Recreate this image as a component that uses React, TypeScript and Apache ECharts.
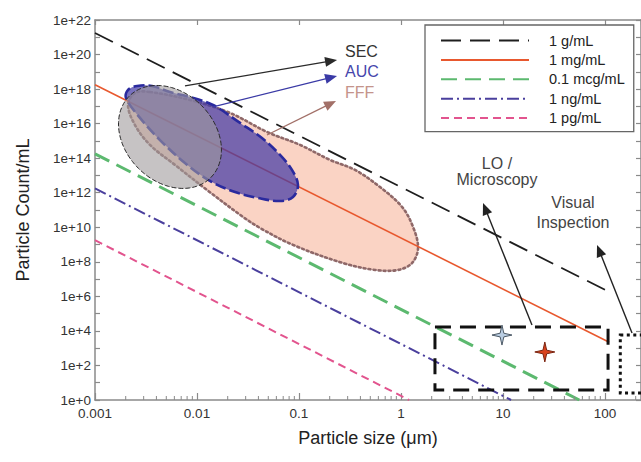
import React, { useEffect, useRef } from "react";
import * as echarts from "echarts";

const FONT = "'Liberation Sans', Arial, Helvetica, sans-serif";

// ---- concentration lines: [particle size (µm), particle count / mL]
const SERIES_NAMES = ["1 g/mL", "1 mg/mL", "0.1 mcg/mL", "1 ng/mL", "1 pg/mL"];
const SERIES_COLORS = ["#1e1e1e", "#e8582e", "#5cb96f", "#4a3f9d", "#e2548e"];
const SERIES_WIDTHS = [1.8, 1.6, 3, 2, 2];
const SERIES_DASHES: (number[] | "solid")[] = [[20, 9], "solid", [16, 8], [12, 4, 2, 4], [8, 5]];
const LINE_1_G = [[0.001, 1.78e21], [110, 1.8e6]];
const LINE_1_MG = [[0.001, 1.78e18], [110, 2.2e3]];
const LINE_01_MCG = [[0.001, 1.78e14], [56, 1]];
const LINE_1_NG = [[0.001, 1.78e12], [12, 1]];
const LINE_1_PG = [[0.001, 1.78e9], [1.2, 1]];
const LINES = [LINE_1_G, LINE_1_MG, LINE_01_MCG, LINE_1_NG, LINE_1_PG];

// ---- axes (decades)
const X_TICK_LABELS = ["0.001", "0.01", "0.1", "1", "10", "100"]; // 1e-3 .. 1e2
const Y_TICK_LABELS = ["1e+0", "1e+2", "1e+4", "1e+6", "1e+8", "1e+10", "1e+12", "1e+14", "1e+16", "1e+18", "1e+20", "1e+22"];
const X_MIN = -3;
const X_MAX = 2.353;
const Y_MIN = 0;
const Y_MAX = 22;
const MINOR_MULTIPLIERS = [2, 3, 4, 5, 6, 7, 8, 9];

// ---- regions, vertices in [log10 size, log10 count]
const FFF_REGION = [
  [-2.461, 17.83], [-2.069, 17.37], [-1.676, 16.62], [-1.314, 15.52], [-0.99, 14.77],
  [-0.696, 13.9], [-0.451, 13.32], [-0.206, 12.33], [0.01, 11.18], [0.118, 10.02],
  [0.167, 8.8], [0.108, 7.93], [-0.029, 7.53], [-0.255, 7.53], [-0.569, 7.93],
  [-1.059, 8.98], [-1.382, 9.96], [-1.549, 10.6], [-1.902, 12.16], [-2.216, 13.61],
  [-2.461, 14.77], [-2.608, 15.92], [-2.676, 17.08], [-2.608, 17.78],
];
const AUC_REGION = [
  [-2.696, 17.49], [-2.676, 17.95], [-2.588, 18.18], [-2.441, 18.18], [-2.265, 17.83],
  [-2.069, 17.54], [-1.843, 17.08], [-1.578, 16.04], [-1.363, 15.17], [-1.186, 14.19],
  [-1.069, 13.32], [-1.01, 12.45], [-1.059, 11.75], [-1.186, 11.52], [-1.402, 11.7],
  [-1.627, 12.04], [-1.873, 12.68], [-2.118, 13.72], [-2.363, 15.05], [-2.559, 16.33],
];
// SEC ellipse: centre, end of one semi-axis, end of the other semi-axis
const SEC_ELLIPSE = { center: [-2.265, 15.23], axisA: [-1.866, 12.87], axisB: [-1.956, 17.05] };

// ---- annotations [log10 size, log10 count]
const METHOD_LABELS = ["SEC", "AUC", "FFF"];
const METHOD_COLORS = ["#2a2a2a", "#3a3aa6", "#a27068"];
const METHOD_TEXT_COLORS = ["#333333", "#4646ac", "#c4948b"];
const METHOD_ARROWS = [
  [[-2.118, 18.18], [-0.627, 19.69]],
  [[-1.843, 16.97], [-0.627, 18.76]],
  [[-1.314, 15.34], [-0.637, 17.31]],
];
const METHOD_LABEL_POS = [[-0.549, 20.15], [-0.549, 18.99], [-0.549, 17.83]];

const LO_LABEL = ["LO /", "Microscopy"];
const LO_LABEL_POS = [[0.941, 13.72], [0.941, 12.74]];
const LO_ARROW = [[1.284, 4.34], [0.804, 11.41]];
const LO_BOX = { x: [0.333, 2.03], y: [0.58, 4.23] };
const VISUAL_LABEL = ["Visual", "Inspection"];
const VISUAL_LABEL_POS = [[1.686, 11.41], [1.686, 10.25]];
const VISUAL_ARROW = [[2.265, 3.88], [1.922, 8.97]];
const VISUAL_BOX = { x: [2.15, 2.7], y: [0.4, 3.76] };
const STARS = [
  { pos: [0.99, 3.76], fill: "#b9cde2", stroke: "#4d5a66" },
  { pos: [1.41, 2.78], fill: "#d8421d", stroke: "#7a2410" },
];

const AXIS_COLOR = "#8a8a8a";

function arrowEls(api: any, from: number[], to: number[], color: string, width: number) {
  const a = api.coord(from);
  const b = api.coord(to);
  const dx = b[0] - a[0];
  const dy = b[1] - a[1];
  const len = Math.hypot(dx, dy);
  const ux = dx / len;
  const uy = dy / len;
  const hl = 12;
  const hw = 5;
  const bx = b[0] - ux * hl;
  const by = b[1] - uy * hl;
  return [
    {
      type: "line",
      shape: { x1: a[0], y1: a[1], x2: bx + ux * 2, y2: by + uy * 2 },
      style: { stroke: color, lineWidth: width },
    },
    {
      type: "polygon",
      shape: { points: [[b[0], b[1]], [bx - uy * hw, by + ux * hw], [bx + uy * hw, by - ux * hw]] },
      style: { fill: color },
    },
  ];
}

function textEl(api: any, pos: number[], text: string, color: string, align: string) {
  const p = api.coord(pos);
  return {
    type: "text",
    x: p[0],
    y: p[1],
    style: { text, fill: color, font: `16px ${FONT}`, align, verticalAlign: "middle" },
  };
}

function boxEl(api: any, box: { x: number[]; y: number[] }, dash: number[], width: number) {
  const pts = [
    api.coord([box.x[0], box.y[1]]),
    api.coord([box.x[1], box.y[1]]),
    api.coord([box.x[1], box.y[0]]),
    api.coord([box.x[0], box.y[0]]),
  ];
  return {
    type: "polygon",
    shape: { points: pts },
    style: { fill: "none", stroke: "#111", lineWidth: width, lineDash: dash },
  };
}

function starEl(api: any, pos: number[], fill: string, stroke: string) {
  const c = api.coord(pos);
  const pts: number[][] = [];
  for (let i = 0; i < 8; i++) {
    const ang = (i * Math.PI) / 4 - Math.PI / 2;
    const r = i % 2 === 0 ? 10 : 2.6;
    pts.push([c[0] + r * Math.cos(ang), c[1] + r * Math.sin(ang)]);
  }
  return { type: "polygon", shape: { points: pts }, style: { fill, stroke, lineWidth: 1 } };
}

export default function App() {
  const ref = useRef<HTMLDivElement>(null);

  useEffect(() => {
    if (!ref.current) return;
    const chart = echarts.init(ref.current, undefined, { renderer: "svg" });

    const lineSeries = LINES.map((pts, i) => ({
      type: "line",
      name: SERIES_NAMES[i],
      data: pts.map((p) => [Math.log10(p[0]), Math.log10(p[1])]),
      symbol: "none",
      showSymbol: false,
      z: 3,
      clip: true,
      lineStyle: { color: SERIES_COLORS[i], width: SERIES_WIDTHS[i], type: SERIES_DASHES[i] },
      itemStyle: { color: SERIES_COLORS[i] },
    }));

    const polySeries = (name: string, poly: number[][], z: number, style: any) => ({
      type: "custom",
      name,
      coordinateSystem: "cartesian2d",
      silent: true,
      clip: true,
      z,
      data: [[0, 0]],
      renderItem: (_p: any, api: any) => ({
        type: "polygon",
        shape: { points: poly.map((v) => api.coord(v)), smooth: 0.35 },
        style,
      }),
    });

    const secSeries = {
      type: "custom",
      name: "SEC",
      coordinateSystem: "cartesian2d",
      silent: true,
      clip: true,
      z: 5,
      data: [[0, 0]],
      renderItem: (_p: any, api: any) => {
        const c = api.coord(SEC_ELLIPSE.center);
        const a = api.coord(SEC_ELLIPSE.axisA);
        const b = api.coord(SEC_ELLIPSE.axisB);
        const pts: number[][] = [];
        for (let i = 0; i < 120; i++) {
          const t = (i / 120) * Math.PI * 2;
          pts.push([
            c[0] + (a[0] - c[0]) * Math.cos(t) + (b[0] - c[0]) * Math.sin(t),
            c[1] + (a[1] - c[1]) * Math.cos(t) + (b[1] - c[1]) * Math.sin(t),
          ]);
        }
        return {
          type: "polygon",
          shape: { points: pts },
          style: { fill: "rgba(160,155,157,0.6)", stroke: "#2a2a2a", lineWidth: 1, lineDash: [5, 2] },
        };
      },
    };

    const minorTickSeries = {
      type: "custom",
      name: "minor ticks",
      coordinateSystem: "cartesian2d",
      silent: true,
      clip: false,
      z: 6,
      data: [[0, 0]],
      renderItem: (_p: any, api: any) => {
        const children: any[] = [];
        for (let d = X_MIN; d < X_MAX; d++) {
          MINOR_MULTIPLIERS.forEach((m) => {
            const v = d + Math.log10(m);
            if (v > X_MAX) return;
            const p = api.coord([v, Y_MIN]);
            children.push({
              type: "line",
              shape: { x1: p[0], y1: p[1], x2: p[0], y2: p[1] - 4 },
              style: { stroke: AXIS_COLOR, lineWidth: 1 },
            });
          });
        }
        return { type: "group", children };
      },
    };

    const annotationSeries = {
      type: "custom",
      name: "annotations",
      coordinateSystem: "cartesian2d",
      silent: true,
      clip: true,
      z: 7,
      data: [[0, 0]],
      renderItem: (_p: any, api: any) => {
        const children: any[] = [];
        METHOD_ARROWS.forEach((ar, i) => {
          children.push(...arrowEls(api, ar[0], ar[1], METHOD_COLORS[i], 1.3));
          children.push(textEl(api, METHOD_LABEL_POS[i], METHOD_LABELS[i], METHOD_TEXT_COLORS[i], "left"));
        });
        children.push(boxEl(api, LO_BOX, [16, 9], 3));
        children.push(boxEl(api, VISUAL_BOX, [3, 3.5], 3));
        children.push(...arrowEls(api, LO_ARROW[0], LO_ARROW[1], "#222", 1.4));
        children.push(...arrowEls(api, VISUAL_ARROW[0], VISUAL_ARROW[1], "#222", 1.4));
        LO_LABEL.forEach((t, i) => children.push(textEl(api, LO_LABEL_POS[i], t, "#444", "center")));
        VISUAL_LABEL.forEach((t, i) => children.push(textEl(api, VISUAL_LABEL_POS[i], t, "#444", "center")));
        STARS.forEach((s) => children.push(starEl(api, s.pos, s.fill, s.stroke)));
        return { type: "group", children };
      },
    };

    const axisCommon = {
      type: "value",
      axisLine: { show: true, onZero: false, lineStyle: { color: AXIS_COLOR, width: 1.5 } },
      splitLine: { show: false },
    };

    chart.setOption({
      animation: false,
      backgroundColor: "#ffffff",
      textStyle: { fontFamily: FONT },
      grid: { left: 95, right: 0, top: 20, bottom: 62, containLabel: false, outerBoundsMode: "none" },
      legend: {
        data: SERIES_NAMES,
        orient: "vertical",
        left: 425,
        top: 25,
        itemWidth: 88,
        itemHeight: 14,
        itemGap: 4.4,
        padding: [8, 9, 6, 15],
        borderColor: "#666",
        borderWidth: 1.3,
        backgroundColor: "#ffffff",
        selectedMode: false,
        itemStyle: { opacity: 0 },
        textStyle: { fontFamily: FONT, fontSize: 14.5, color: "#222", lineHeight: 14, padding: [0, 0, 0, 15] },
      },
      xAxis: [
        {
          ...axisCommon,
          min: X_MIN,
          max: X_MAX,
          interval: 1,
          position: "bottom",
          name: "Particle size (μm)",
          nameLocation: "middle",
          nameGap: 29,
          nameTextStyle: { fontFamily: FONT, fontSize: 18, color: "#222" },
          axisTick: { show: true, inside: true, length: 7, lineStyle: { color: AXIS_COLOR, width: 1.2 } },
          axisLabel: {
            show: true,
            margin: 6,
            fontFamily: FONT,
            fontSize: 13.5,
            color: "#333",
            showMaxLabel: false,
            formatter: (v: number) => (Number.isInteger(v) ? X_TICK_LABELS[v - X_MIN] ?? "" : ""),
          },
        },
        {
          ...axisCommon,
          min: X_MIN,
          max: X_MAX,
          interval: 1,
          position: "top",
          axisTick: { show: true, inside: true, length: 5, lineStyle: { color: AXIS_COLOR, width: 1.2 } },
          axisLabel: { show: false },
        },
      ],
      yAxis: [
        {
          ...axisCommon,
          min: Y_MIN,
          max: Y_MAX,
          interval: 1,
          position: "left",
          name: "Particle Count/mL",
          nameLocation: "middle",
          nameGap: 63,
          nameTextStyle: { fontFamily: FONT, fontSize: 18, color: "#222" },
          axisTick: { show: true, inside: true, length: 5, lineStyle: { color: AXIS_COLOR, width: 1.2 } },
          axisLabel: {
            show: true,
            margin: 4,
            fontFamily: FONT,
            fontSize: 13.5,
            color: "#333",
            formatter: (v: number) => (v % 2 === 0 ? Y_TICK_LABELS[v / 2] ?? "" : ""),
          },
        },
        {
          ...axisCommon,
          min: Y_MIN,
          max: Y_MAX,
          interval: 1,
          position: "right",
          axisTick: { show: true, inside: true, length: 5, lineStyle: { color: AXIS_COLOR, width: 1.2 } },
          axisLabel: { show: false },
        },
      ],
      series: [
        polySeries("FFF", FFF_REGION, 1, {
          fill: "#fad3c4",
          stroke: "#8f6868",
          lineWidth: 2.6,
          lineDash: [2, 3],
          lineCap: "round",
        }),
        ...lineSeries,
        polySeries("AUC", AUC_REGION, 4, {
          fill: "rgba(68,58,165,0.72)",
          stroke: "#2a2a9e",
          lineWidth: 2.6,
          lineDash: [11, 4],
        }),
        secSeries,
        minorTickSeries,
        annotationSeries,
      ],
    });

    return () => chart.dispose();
  }, []);

  return (
    <div
      ref={ref}
      style={{ position: "fixed", left: 0, top: 0, width: 641, height: 462, background: "#fff" }}
    />
  );
}
